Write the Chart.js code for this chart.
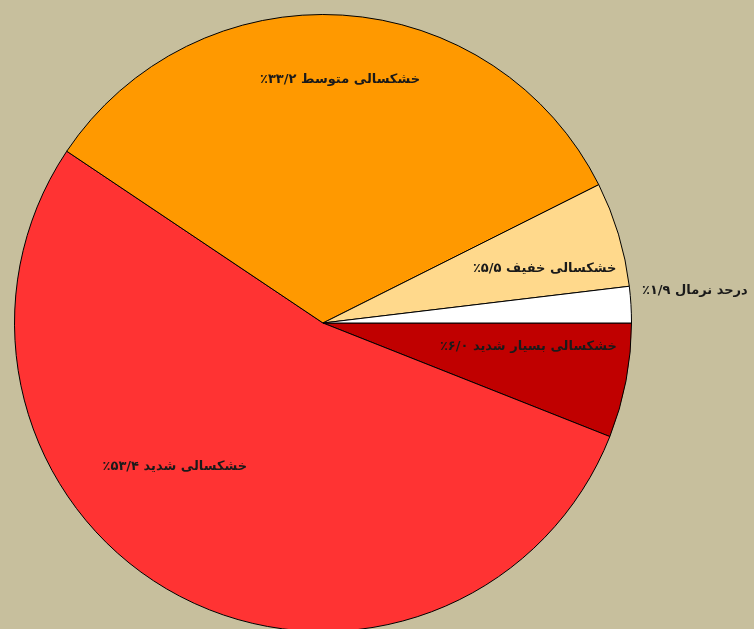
<!DOCTYPE html>
<html>
<head>
<meta charset="utf-8">
<script src="https://cdn.jsdelivr.net/npm/chart.js@4.4.0/dist/chart.umd.min.js"></script>
<style>
  html, body { margin: 0; padding: 0; background: #c7bf9d; overflow: hidden; }
  body { width: 754px; height: 629px; }
  #wrap { position: absolute; left: 0; top: 0; width: 754px; height: 646px; }
</style>
</head>
<body>
<div id="wrap"><canvas id="pie"></canvas></div>
<script>
// دسته‌ها به ترتیب ساعتگرد از سمت راست
const categories = ['خشکسالی بسیار شدید', 'خشکسالی شدید', 'خشکسالی متوسط', 'خشکسالی خفیف', 'درحد نرمال'];
const values = [6.0, 53.4, 33.2, 5.5, 1.9];
const valueLabels = ['۶/۰٪', '۵۳/۴٪', '۳۳/۲٪', '۵/۵٪', '۱/۹٪'];
const colors = ['#c00000', '#ff3333', '#ff9900', '#ffd98c', '#ffffff'];

// محل برچسب‌ها: زاویه (درجه، از سمت راست) و نسبت شعاع
const labelAt = [[6.6, 0.67], [135.8, 0.67], [-86, 0.79], [-13.9, 0.74], [-5, 1.21]];

const sliceLabels = {
    id: 'sliceLabels',
    afterDatasetsDraw(chart) {
        const ctx = chart.ctx;
        const arc = chart.getDatasetMeta(0).data[0];
        const cx = arc.x, cy = arc.y, r = arc.outerRadius;
        ctx.save();
        ctx.font = 'bold 13px "DejaVu Sans"';
        ctx.fillStyle = '#1a1a1a';
        ctx.direction = 'rtl';
        ctx.textAlign = 'center';
        ctx.textBaseline = 'middle';
        categories.forEach((c, i) => {
            const a = labelAt[i][0] * Math.PI / 180;
            const d = labelAt[i][1] * r;
            ctx.fillText(c + ' ' + valueLabels[i], cx + d * Math.cos(a), cy + d * Math.sin(a));
        });
        ctx.restore();
    }
};

new Chart(document.getElementById('pie'), {
    type: 'pie',
    data: {
        labels: categories,
        datasets: [{
            data: values,
            backgroundColor: colors,
            borderColor: '#000',
            borderWidth: 1
        }]
    },
    options: {
        responsive: true,
        maintainAspectRatio: false,
        animation: false,
        rotation: 90,
        layout: { padding: { left: 14, right: 122, top: 14, bottom: 14 } },
        plugins: {
            legend: { display: false },
            tooltip: { enabled: false }
        }
    },
    plugins: [sliceLabels]
});
</script>
</body>
</html>
